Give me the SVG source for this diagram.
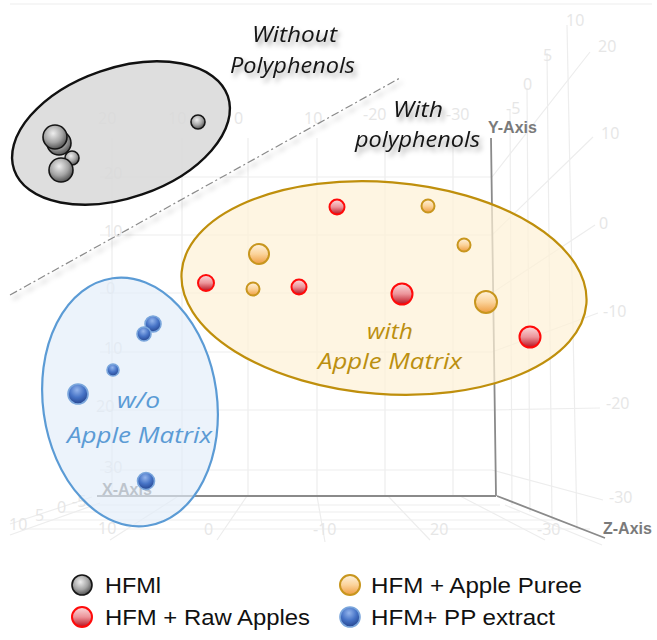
<svg xmlns="http://www.w3.org/2000/svg" width="657" height="640" viewBox="0 0 657 640">
  <defs>
    <style>
      .grid{stroke:#ededed;stroke-width:1.2;fill:none}
      .glab{font-family:"Open Sans","Liberation Sans",sans-serif;font-size:16px;fill:#e6e6e6}
      .axis{stroke:#8a8a8a;stroke-width:1.8;fill:none}
      .alab{font-family:"Liberation Sans",Arial,sans-serif;font-weight:bold;font-size:16px;fill:#7a7a7a}
      .note{font-family:"Open Sans","Liberation Sans",sans-serif;font-style:italic;font-size:21px;fill:#141414}
      .grp{font-family:"Open Sans","Liberation Sans",sans-serif;font-style:italic;font-size:22px}
      .leg{font-family:"Liberation Sans",Arial,sans-serif;font-size:22px;fill:#111}
      .s-grey{fill:url(#gGrey);stroke:#151515;stroke-width:1.6}
      .s-red{fill:url(#gRed);stroke:#ff0a0a;stroke-width:2}
      .s-orange{fill:url(#gOrange);stroke:#c8961e;stroke-width:2}
      .s-blue{fill:url(#gBlue);stroke:#7aa6dc;stroke-width:1.6}
    </style>
    <radialGradient id="gGrey" cx="0.42" cy="0.35" r="0.7">
      <stop offset="0" stop-color="#eeeeee"/>
      <stop offset="0.55" stop-color="#a4a4a4"/>
      <stop offset="1" stop-color="#454545"/>
    </radialGradient>
    <linearGradient id="gRed" x1="0" y1="0" x2="0" y2="1">
      <stop offset="0" stop-color="#fbdcdd"/>
      <stop offset="0.5" stop-color="#ec949a"/>
      <stop offset="1" stop-color="#b8101e"/>
    </linearGradient>
    <linearGradient id="gOrange" x1="0" y1="0" x2="0" y2="1">
      <stop offset="0" stop-color="#fff3de"/>
      <stop offset="0.5" stop-color="#fbd39a"/>
      <stop offset="1" stop-color="#ee9c40"/>
    </linearGradient>
    <radialGradient id="gBlue" cx="0.45" cy="0.3" r="0.75">
      <stop offset="0" stop-color="#93b4ec"/>
      <stop offset="0.5" stop-color="#4673c6"/>
      <stop offset="1" stop-color="#213f88"/>
    </radialGradient>
    <filter id="softShadow" x="-10%" y="-30%" width="130%" height="180%">
      <feDropShadow dx="3" dy="4" stdDeviation="2.5" flood-color="#000" flood-opacity="0.35"/>
    </filter>
  </defs>

  <rect width="657" height="640" fill="#ffffff"/>

  <!-- faint 3D plot frame -->
  <g id="plot-grid">
    <line class="grid" x1="10" y1="4" x2="652" y2="4" stroke="#f4f4f4"/>
    <!-- back wall verticals -->
    <path class="grid" d="M112 138V496 M182 138V496 M248 138V496 M317 138V496 M385 138V496 M453 138V496"/>
    <!-- back wall horizontals -->
    <path class="grid" d="M100 177H492 M100 235H492 M100 293H492 M100 352H492 M100 410H492 M100 470H492"/>
    <!-- side wall -->
    <path class="grid" d="M492 177L590 52 M492 235L593 137 M492 293L595 225 M492 352L598 313 M492 410L600 408 M492 470L603 500"/>
    <path class="grid" d="M510 110L512 505 M527 88L530 512 M547 53L552 520 M567 25L577 530"/>
    <!-- floor -->
    <path class="grid" d="M80 505H500 M60 512H520 M40 520H560 M25 529H590"/>
    <path class="grid" d="M10 535L100 503 M10 524L92 497 M110 540L177 497 M217 540L247 496 M325 542L317 496 M430 540L388 496 M545 540L460 496 M505 505L602 545"/>
    <g class="glab">
      <text x="98" y="124">20</text><text x="168" y="124">10</text><text x="234" y="124">0</text>
      <text x="304" y="124">10</text><text x="363" y="120">-20</text><text x="446" y="120">-30</text>
      <text x="104" y="179">20</text><text x="104" y="237">10</text><text x="106" y="294">0</text>
      <text x="104" y="354">10</text><text x="96" y="412">20</text><text x="104" y="473">30</text>
      <text x="566" y="26">10</text><text x="543" y="61">5</text><text x="523" y="90">0</text><text x="506" y="114">-5</text>
      <text x="598" y="52">20</text><text x="601" y="139">10</text><text x="599" y="229">0</text>
      <text x="603" y="317">-10</text><text x="606" y="409">-20</text><text x="609" y="503">-30</text>
      <text x="9" y="530">10</text><text x="35" y="521">5</text><text x="57" y="513">0</text><text x="72" y="507">-5</text>
      <text x="98" y="534">10</text><text x="204" y="535">0</text><text x="313" y="535">-10</text>
      <text x="430" y="535">20</text><text x="537" y="535">-30</text>
    </g>
    <!-- axes -->
    <path class="axis" d="M97 496H496 M491 138L496 496 M497 496L605 538"/>
    <text class="alab" x="488" y="133">Y-Axis</text>
    <text class="alab" x="102" y="495" fill="#9a9a9a">X-Axis</text>
    <text class="alab" x="603" y="534" fill="#6a6a6a">Z-Axis</text>
  </g>

  <!-- dividing line between the two regions -->
  <g id="connectors">
    <line id="divider" x1="10" y1="295" x2="400" y2="78" stroke="#8a8a8a" stroke-width="1.2" stroke-dasharray="8 3 2 3" filter="url(#softShadow)"/>
  </g>

  <!-- annotations -->
  <g id="label-without" filter="url(#softShadow)">
    <text class="note" x="252" y="42" textLength="85" lengthAdjust="spacingAndGlyphs">Without</text>
    <text class="note" x="230" y="73" textLength="125" lengthAdjust="spacingAndGlyphs">Polyphenols</text>
  </g>
  <g id="label-with" filter="url(#softShadow)">
    <text class="note" x="393" y="117" textLength="50" lengthAdjust="spacingAndGlyphs">With</text>
    <text class="note" x="355" y="147" textLength="125" lengthAdjust="spacingAndGlyphs">polyphenols</text>
  </g>

  <!-- HFMl cluster -->
  <g id="cluster-hfml">
    <ellipse cx="121" cy="133" rx="113" ry="65" transform="rotate(-19 121 133)" fill="#d8d8d8" fill-opacity="0.85" stroke="#111" stroke-width="2.4"/>
    <circle class="s-grey" cx="59" cy="143" r="12"/>
    <circle class="s-grey" cx="55" cy="137" r="12"/>
    <circle class="s-grey" cx="72" cy="158" r="7"/>
    <circle class="s-grey" cx="61" cy="170" r="12"/>
    <circle class="s-grey" cx="198" cy="122" r="7"/>
  </g>

  <!-- with apple matrix cluster -->
  <g id="cluster-apple-matrix">
    <ellipse cx="384" cy="288" rx="203" ry="106" transform="rotate(4.5 384 288)" fill="#fdf1d6" fill-opacity="0.7" stroke="#bf8f0c" stroke-width="2.2"/>
    <text class="grp" x="367" y="339" fill="#bb8f10" font-size="21" textLength="46" lengthAdjust="spacingAndGlyphs">with</text>
    <text class="grp" x="318" y="369" fill="#bb8f10" textLength="144" lengthAdjust="spacingAndGlyphs">Apple Matrix</text>
    <circle class="s-red" cx="337" cy="207" r="7.5"/>
    <circle class="s-orange" cx="428" cy="206" r="6.5"/>
    <circle class="s-orange" cx="464" cy="245" r="6.5"/>
    <circle class="s-orange" cx="259" cy="254" r="10"/>
    <circle class="s-red" cx="206" cy="283" r="8"/>
    <circle class="s-orange" cx="253" cy="289" r="6.5"/>
    <circle class="s-red" cx="299" cy="287" r="7.5"/>
    <circle class="s-red" cx="402" cy="294" r="10.5"/>
    <circle class="s-orange" cx="486" cy="302" r="11"/>
    <circle class="s-red" cx="530" cy="337" r="10.5"/>
  </g>

  <!-- without apple matrix cluster -->
  <g id="cluster-pp-extract">
    <ellipse cx="130" cy="402" rx="87" ry="125" transform="rotate(-8 130 402)" fill="#e2edf9" fill-opacity="0.65" stroke="#5b9bd5" stroke-width="2.2"/>
    <text class="grp" x="117" y="408" fill="#5b9bd5" textLength="43" lengthAdjust="spacingAndGlyphs">w/o</text>
    <text class="grp" x="67" y="443" fill="#5b9bd5" textLength="145" lengthAdjust="spacingAndGlyphs">Apple Matrix</text>
    <circle class="s-blue" cx="153" cy="324" r="8"/>
    <circle class="s-blue" cx="144" cy="334" r="7"/>
    <circle class="s-blue" cx="113" cy="370" r="6"/>
    <circle class="s-blue" cx="78" cy="394" r="10"/>
    <circle class="s-blue" cx="146" cy="481" r="8.5"/>
  </g>

  <!-- legend -->
  <g id="legend">
    <g id="legend-hfml">
      <circle class="s-grey" cx="82" cy="585" r="10"/>
      <text class="leg" x="105" y="593" textLength="56" lengthAdjust="spacingAndGlyphs">HFMl</text>
    </g>
    <g id="legend-raw-apples">
      <circle class="s-red" cx="82" cy="617" r="10"/>
      <text class="leg" x="105" y="625" textLength="205" lengthAdjust="spacingAndGlyphs">HFM + Raw Apples</text>
    </g>
    <g id="legend-apple-puree">
      <circle class="s-orange" cx="350" cy="585" r="10"/>
      <text class="leg" x="371" y="593" textLength="211" lengthAdjust="spacingAndGlyphs">HFM + Apple Puree</text>
    </g>
    <g id="legend-pp-extract">
      <circle class="s-blue" cx="350" cy="617" r="10"/>
      <text class="leg" x="371" y="625" textLength="184" lengthAdjust="spacingAndGlyphs">HFM+ PP extract</text>
    </g>
  </g>
</svg>
